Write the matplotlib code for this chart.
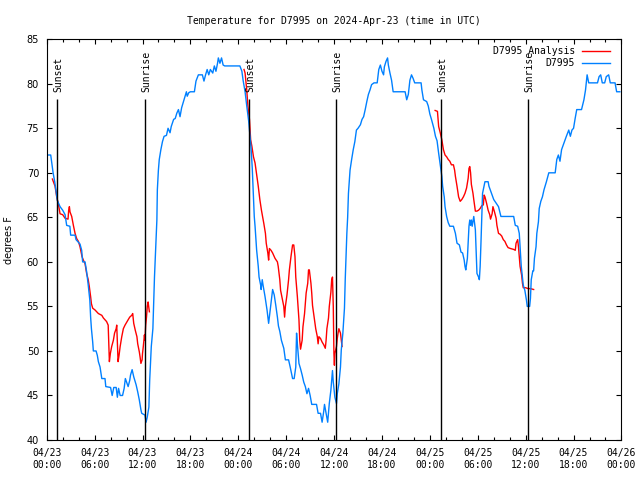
import numpy as np
import pandas as pd
import matplotlib
matplotlib.use("Agg")
import matplotlib.pyplot as plt
import matplotlib.dates as mdates

# hours since 2024-04-23 00:00 UTC, temperature in F
obs_hours = [
    0, 0.5, 0.8, 1.0, 1.33, 1.67, 2.0, 2.3, 2.5, 2.9, 3.0, 3.55, 3.67, 4.17, 4.38, 4.5, 4.8,
    5.0, 5.2, 5.4, 5.5, 5.6, 5.76, 5.84, 6.18, 6.34, 6.47, 6.68, 6.8, 6.9, 7.3, 7.4, 8.0, 8.2,
    8.4, 8.7, 8.85, 9.0, 9.2, 9.5, 9.7, 9.85, 10.0, 10.2, 10.4, 10.5, 10.7, 10.9, 11.2, 11.4,
    11.6, 11.8, 11.9, 12.3, 12.45, 12.6, 12.8, 12.9, 13.1, 13.3, 13.4, 13.5, 13.65, 13.8, 13.86,
    13.99, 14.1, 14.3, 14.5, 14.7, 15.0, 15.2, 15.45, 15.6, 15.9, 16.1, 16.3, 16.5, 16.7, 16.9,
    17.2, 17.5, 17.6, 17.8, 18.0, 18.5, 18.7, 19.0, 19.5, 19.7, 19.9, 20.1, 20.3, 20.5, 20.8,
    21.0, 21.2, 21.4, 21.5, 21.7, 21.9, 22.1, 22.3, 24.2, 24.45, 24.6, 24.85, 25.06, 25.3, 25.45,
    25.6, 25.75, 25.85, 26.0, 26.1, 26.3, 26.5, 26.6, 26.8, 26.86, 27.0, 27.1, 27.35, 27.6, 27.8,
    28.0, 28.2, 28.3, 28.5, 28.7, 28.9, 29.03, 29.2, 29.4, 29.7, 29.9, 30.3, 30.5, 30.7, 30.8,
    31.0, 31.2, 31.3, 31.4, 31.6, 31.8, 32.0, 32.2, 32.4, 32.6, 32.8, 33.0, 33.2, 33.8, 34.0,
    34.3, 34.5, 34.7, 34.8, 35.0, 35.2, 35.4, 35.6, 35.8, 35.9, 36.1, 36.3, 36.4, 36.6, 36.8,
    36.9, 37.1, 37.3, 37.4, 37.6, 37.7, 37.8, 38.0, 38.2, 38.4, 38.6, 38.8, 39.0, 39.3, 39.5,
    39.7, 39.9, 40.1, 40.3, 40.5, 40.7, 41.0, 41.4, 41.6, 41.8, 42.0, 42.2, 42.3, 42.5, 42.7,
    42.8, 43.0, 43.2, 43.4, 44.9, 45.1, 45.3, 45.5, 45.7, 45.9, 46.1, 46.9, 47.0, 47.2, 47.6,
    47.8, 48.0, 48.2, 48.5, 48.7, 48.9, 49.1, 49.3, 49.5, 49.6, 49.8, 49.9, 50.1, 50.3, 50.5,
    50.95, 51.2, 51.4, 51.7, 51.9, 52.1, 52.3, 52.4, 52.5, 52.7, 52.8, 52.9, 53.0, 53.1, 53.2,
    53.3, 53.5, 53.7, 53.8, 53.9, 54.1, 54.2, 54.3, 54.4, 54.5, 54.6, 54.9, 55.3, 55.4, 56.0,
    56.6, 56.9, 58.5, 58.7, 59.0, 59.2, 59.3, 59.45, 59.6, 59.7, 59.9, 60.1, 60.2, 60.5, 60.6,
    60.7, 60.9, 61.0, 61.1, 61.3, 61.4, 61.6, 61.7, 61.9, 62.1, 62.3, 62.6, 62.9, 63.7, 63.9,
    64.1, 64.3, 64.5, 64.7, 65.1, 65.4, 65.6, 65.8, 66.0, 66.2, 66.4, 67.0, 67.3, 67.5, 67.7,
    67.9, 69.0, 69.2, 69.4, 69.6, 69.9, 70.1, 70.4, 70.6, 71.2, 71.4, 71.8,
]
obs_temp = [
    72, 72, 70, 69, 66.9, 66.2, 65.8, 65.3, 64.1, 64, 63, 63, 62.5, 62, 61.3, 60, 60,
    58.9, 57.4, 55.7, 53.8, 52.5, 51, 50, 50, 49.5, 48.8, 48.2, 47.5, 46.9, 46.9, 46, 45.9, 45,
    45.9, 45.9, 44.8, 45.8, 45, 45, 45.8, 46.9, 46.5, 46, 46.7, 47.3, 47.9, 47.1, 46.2, 45.4,
    44.5, 43.4, 43, 42.8, 42, 42.6, 43.7, 46.7, 50.5, 52.5, 55.3, 58.3, 61.5, 64.7, 68.1,
    70.3, 71.5, 72.6, 73.5, 74.1, 74.2, 75, 74.5, 75.2, 76, 76.1, 76.7, 77.1, 76.3, 77.3,
    78.2, 79.1, 78.6, 79, 79.1, 79.1, 80.3, 81, 81, 80.3, 81, 81.6, 81, 81.6, 81.2,
    82, 81.4, 82.3, 82.9, 82.3, 82.9, 82.1, 82, 82, 81.4, 80.4, 79.1, 77.5, 75.8, 74.3,
    72.8, 70.5, 68.3, 65.1, 64.0, 61.3, 59.5, 58.3, 57.4, 56.9, 58, 57.4, 56.1, 54.6, 53.1,
    54.6, 56.1, 56.9, 56.3, 55.1, 53.8, 52.8, 52.2, 51.2, 50.3, 49, 49, 48.2, 47.3, 46.9,
    46.9, 48.2, 52, 50.8, 48.6, 48, 47.3, 46.5, 46, 45.2, 45.8, 45, 44, 44, 43,
    43, 42, 43.2, 44, 43, 42, 44.1, 45.6, 47.8, 46.5, 44.8, 44.1, 45.2, 46.3, 48.2,
    50.1, 52, 54.8, 58.1, 63.2, 65, 67.7, 70.3, 71.5, 72.6, 73.5, 74.8, 75, 75.4, 76,
    76.3, 77.1, 78, 78.8, 79.3, 79.9, 80.1, 80.1, 81.6, 82.1, 81.4, 81, 81.9, 82.5, 82.9,
    82.1, 81.2, 80.4, 79.1, 79.1, 78.2, 78.8, 80.4, 81, 80.6, 80.1, 80.1, 79.3, 78.2, 78,
    77.5, 76.6, 76, 75, 74.1, 73.6, 72.2, 70.9, 69.6, 68.5, 67.3, 66.2, 65.1, 64.4, 64,
    64, 63.2, 62.1, 61.9, 61.1, 61, 60.2, 59.5, 59.1, 60.4, 62.1, 64, 64.7, 64.1, 64.7,
    64, 65.1, 63.6, 61.3, 58.7, 58.3, 58, 59.5, 62.1, 65.1, 67.7, 69, 69, 68.5, 67,
    66.2, 65.1, 65.1, 64.1, 64, 63.2, 61.7, 59.5, 58.3, 57.4, 56.8, 55.7, 55, 55, 55.9,
    58, 59, 59, 60.4, 61.7, 63.2, 64.5, 66, 66.8, 67.3, 68.1, 69, 70, 70, 71.5,
    72, 71.3, 72.6, 73.1, 74.1, 74.8, 74.1, 74.8, 75, 76.1, 77.1, 77.1, 78.2, 79.3, 81,
    80.1, 80.1, 80.8, 81, 80.1, 80.1, 80.8, 81, 80.1, 80.1, 79.1, 79.1,
]

# analysis, nighttime only (nan = gap between nights)
ana_hours = [
    0.71, 1.04, 1.25, 1.46, 1.67, 2.0, 2.3, 2.67, 2.75, 2.84, 2.92, 3.13, 3.34, 3.55, 3.76,
    3.97, 4.17, 4.3, 4.42, 4.59, 4.8, 5.0, 5.2, 5.34, 5.5, 5.6, 5.76, 6.05, 6.26, 6.47, 6.68,
    6.9, 7.1, 7.3, 7.5, 7.7, 7.77, 7.85, 7.97, 8.14, 8.35, 8.5, 8.7, 8.77, 8.85, 8.94, 9.06,
    9.2, 9.4, 9.6, 9.81, 10.0, 10.2, 10.4, 10.65, 10.77, 10.9, 11.1, 11.3, 11.4, 11.6, 11.7,
    11.8, 11.95, 12.0, 12.1, 12.24, 12.3, 12.4, 12.5, 12.6, 12.7, 12.86,
    18.0,
    24.72, 24.85, 25.06, 25.2, 25.4, 25.55, 25.7, 25.9, 26.1, 26.3, 26.5, 26.7, 26.9, 27.2,
    27.4, 27.5, 27.7, 27.8, 27.9, 28.1, 28.3, 28.6, 28.9, 29.0, 29.2, 29.3, 29.5, 29.7, 29.8,
    29.9, 30.1, 30.3, 30.4, 30.6, 30.8, 30.95, 31.1, 31.2, 31.4, 31.6, 31.7, 31.8, 32.0, 32.1,
    32.3, 32.4, 32.5, 32.7, 32.8, 32.9, 33.1, 33.2, 33.3, 33.5, 33.7, 33.9, 34.0, 34.1, 34.3,
    34.5, 34.7, 34.9, 35.0, 35.1, 35.3, 35.4, 35.6, 35.7, 35.8, 35.9, 35.98, 36.04, 36.1, 36.3,
    36.4, 36.5, 36.6, 36.8, 36.9, 37.0,
    42.0,
    48.66, 48.95, 49.1, 49.3, 49.5, 49.7, 49.9, 50.1, 50.3, 50.5, 50.7, 50.95, 51.1, 51.2,
    51.4, 51.6, 51.8, 52.0, 52.2, 52.4, 52.6, 52.8, 52.9, 53.0, 53.1, 53.2, 53.4, 53.5, 53.7,
    53.9, 54.1, 54.3, 54.5, 54.7, 54.8, 54.9, 55.1, 55.3, 55.5, 55.6, 55.8, 55.9, 56.1, 56.3,
    56.4, 56.6, 56.8, 57.0, 57.2, 57.4, 57.6, 57.8, 58.1, 58.5, 58.7, 58.8, 59.0, 59.1, 59.2,
    59.3, 59.5, 59.6, 59.7, 60.0, 60.3, 60.6, 61.0,
]
ana_temp = [
    69.3, 68.5, 67.3, 66.5, 65.4, 65.3, 64.9, 64.8, 65.8, 66.2, 65.6, 65.1, 64.1, 63.2, 62.6,
    62.3, 61.7, 61.1, 60.6, 60.2, 59.8, 58.7, 58, 57.2, 56.1, 55.3, 54.8, 54.6, 54.4, 54.2, 54.1,
    54, 53.7, 53.5, 53.3, 52.9, 50.8, 48.8, 49.7, 50.5, 51.2, 52, 52.5, 52.9, 50.8, 48.8, 49.5,
    50.5, 51.6, 52.5, 52.9, 53.2, 53.5, 53.8, 54, 54.2, 53.1, 52.3, 51.6, 50.8, 49.9, 49.3,
    48.6, 49, 49.7, 50.5, 51.8, 51.2, 52.9, 53.8, 55, 55.5, 54.4,
    np.nan,
    81.6, 81.2, 79.3, 77.5, 76, 73.7, 73, 71.8, 71.1, 69.8, 68.5, 67, 65.8, 64.3,
    63.2, 62.1, 61, 60.2, 61.5, 61.3, 61, 60.4, 60, 59.5, 58, 56.8, 55.9, 55, 53.8,
    55, 56.3, 58, 59.1, 60.6, 61.9, 61.9, 60.6, 58.3, 56.1, 53.5, 51.2, 50.2, 51.2, 52.7,
    54.2, 55.3, 56.5, 57.6, 59.1, 59.1, 57.6, 56.5, 55.1, 53.8, 52.5, 51.6, 50.8, 51.6, 51.4,
    51, 50.7, 50.3, 51.2, 52.5, 53.7, 55, 56.6, 58, 58.3, 55, 49.7, 48.4, 49.7, 50.5,
    51.4, 52, 52.5, 52, 51.2, 50.5,
    np.nan,
    77, 76.9, 75.2, 74.5, 73.7, 72.6, 72, 71.8, 71.5, 71.3, 70.9, 70.9, 70.3, 69.6,
    68.5, 67.3, 66.8, 67, 67.3, 67.7, 68.3, 69.4, 70.5, 70.7, 70, 68.7, 67.7, 67, 65.7,
    65.7, 65.8, 66, 66.3, 66.4, 67.5, 67.3, 66.6, 65.8, 65.3, 64.8, 65.4, 66.2, 65.6, 64.9,
    64.1, 63.2, 63.1, 62.9, 62.5, 62.3, 61.9, 61.6, 61.5, 61.4, 61.3, 62.1, 62.5, 61.7, 60.6,
    59.5, 58.5, 57.6, 57.1, 57.1, 57, 57, 56.9,
]

sun_hours = [1.33, 12.36, 25.39, 36.29, 49.45, 60.35]
sun_labels = ["Sunset", "Sunrise", "Sunset", "Sunrise", "Sunset", "Sunrise"]

start = pd.Timestamp("2024-04-23 00:00")


def to_time(hours):
    return start + pd.to_timedelta(np.asarray(hours, dtype=float), unit="h")


mono = "DejaVu Sans Mono"

fig = plt.figure(figsize=(6.4, 4.8), dpi=100)
ax = fig.add_axes([0.073, 0.0833, 0.898, 0.835])

ax.plot(to_time(ana_hours), ana_temp, color="#ff0000", lw=1.0, label="D7995 Analysis")
ax.plot(to_time(obs_hours), obs_temp, color="#0080ff", lw=1.0, label="D7995")

sun_times = to_time(sun_hours)
ax.vlines(sun_times, 40, 78.3, color="black", lw=1.0, zorder=3)
for t, lab in zip(sun_times, sun_labels):
    ax.annotate(lab, (t, 78.3), xytext=(1, 5), textcoords="offset points",
                rotation=90, ha="center", va="bottom", family=mono, fontsize=7)

ax.set_xlim(start, start + pd.Timedelta(hours=72))
ax.set_ylim(40, 85)
ax.set_yticks(range(40, 86, 5))

ax.xaxis.set_major_locator(mdates.HourLocator(byhour=[0, 6, 12, 18]))
ax.xaxis.set_minor_locator(mdates.HourLocator(byhour=range(0, 24, 2)))
ax.xaxis.set_major_formatter(mdates.DateFormatter("%m/%d\n%H:%M"))

ax.tick_params(axis="both", which="both", direction="in", top=True, right=True, width=0.8)
ax.tick_params(axis="both", which="major", length=3.6)
ax.tick_params(axis="both", which="minor", length=2.0)
ax.tick_params(axis="x", pad=5.5)
ax.tick_params(axis="y", labelsize=7, pad=5.5)
for lab in ax.get_xticklabels():
    lab.set_family(mono)
    lab.set_fontsize(7)
    lab.set_linespacing(1.35)

ax.set_title("Temperature for D7995 on 2024-Apr-23 (time in UTC)",
             family=mono, fontsize=7, pad=11)
ax.set_ylabel("degrees F", fontsize=7, labelpad=9)

ax.legend(loc="upper right", frameon=False, markerfirst=False,
          prop={"family": mono, "size": 7}, handlelength=2.9,
          handletextpad=0.7, labelspacing=0.25, borderaxespad=0.3,
          bbox_to_anchor=(0.992, 1.0))

fig.savefig("out.png", dpi=100)
